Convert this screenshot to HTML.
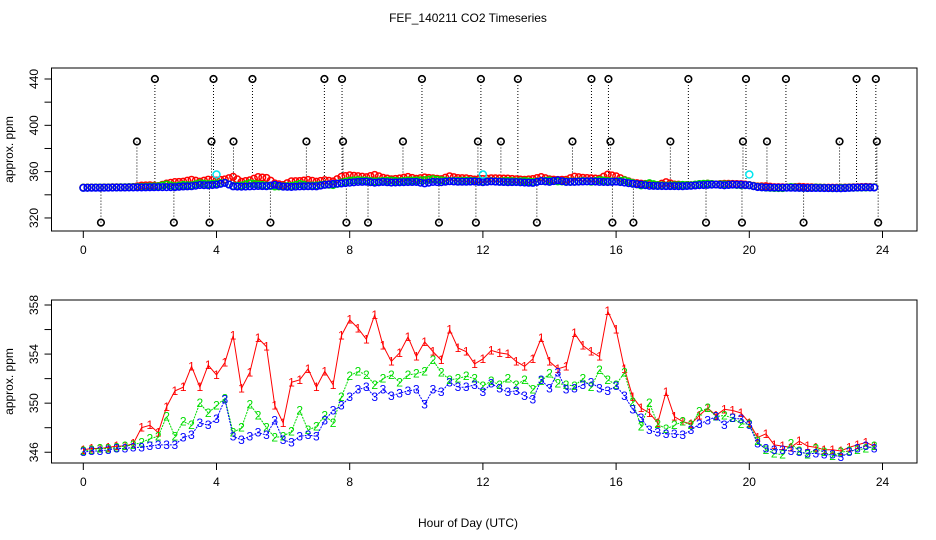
<!DOCTYPE html>
<html><head><meta charset="utf-8"><style>
body{margin:0;background:#fff;}
svg{display:block;font-family:"Liberation Sans",sans-serif;}
</style></head><body>
<svg id="chart" width="936" height="540" viewBox="0 0 936 540">
<rect width="936" height="540" fill="#fff"/>
<text x="468" y="22" font-size="12" text-anchor="middle">FEF_140211  CO2 Timeseries</text>
<text x="468" y="527" font-size="12" text-anchor="middle">Hour of Day (UTC)</text>
<g id="topPanel"></g>
<g id="botPanel"></g>
</svg>
<script>
const hours = [];
for (let i = 0; i < 96; i++) hours.push(i * 0.25);
const series1 = [346.2,346.3,346.3,346.4,346.5,346.5,346.7,348.0,348.2,347.6,349.7,351.0,351.3,353.0,351.3,353.1,352.3,353.3,355.5,351.2,352.5,355.3,354.6,349.8,348.4,351.7,351.9,352.8,351.3,352.6,351.5,355.5,356.8,356.1,355.2,357.2,354.7,353.4,354.1,355.4,353.8,355.0,354.2,353.5,356.0,354.5,354.2,353.2,353.6,
354.3,354.1,354.0,353.4,353.0,353.6,355.3,353.4,352.8,353.0,355.7,354.7,354.2,353.8,357.5,356.0,352.8,350.5,349.6,349.2,348.4,350.9,348.9,348.5,348.3,349.0,349.6,349.0,349.5,349.4,349.2,348.4,347.2,347.5,346.6,346.5,346.4,346.9,346.5,346.4,346.2,346.2,346.1,346.4,346.6,346.8,346.5];
const series2 = [346.1,346.2,346.3,346.3,346.4,346.5,346.6,346.8,347.1,347.3,348.9,347.3,348.5,348.2,350.0,349.2,349.8,350.4,347.6,348.0,349.9,349.0,348.0,347.2,347.3,347.7,349.4,347.8,348.1,349.0,348.4,350.5,352.2,352.6,352.3,351.5,352.0,352.3,351.7,352.3,352.4,352.6,353.5,352.5,351.9,352.0,352.2,352.0,351.4,
351.8,351.5,352.0,351.5,351.9,351.1,351.8,352.4,351.6,351.5,351.4,352.0,351.3,352.7,351.9,351.5,352.5,350.1,348.1,350.0,348.3,347.9,348.2,348.5,348.2,349.3,349.6,348.9,349.0,348.8,348.3,348.3,346.9,346.2,345.9,345.8,346.7,346.1,345.8,346.3,346.0,345.7,346.0,346.1,346.2,346.3,346.5];
const series3 = [346.0,346.1,346.1,346.2,346.3,346.3,346.4,346.4,346.5,346.6,346.6,346.6,347.2,347.4,348.4,348.2,348.7,350.3,347.3,347.0,347.3,347.6,347.4,348.6,347.0,346.8,347.3,347.4,347.3,348.6,349.4,349.8,350.5,351.1,351.3,350.5,351.1,350.6,350.8,351.0,351.1,349.9,351.1,350.9,351.7,351.3,351.3,351.5,350.9,
351.6,351.2,350.9,351.0,350.6,350.3,351.9,351.2,352.5,351.1,351.2,351.5,351.7,351.2,351.0,351.4,350.6,349.5,348.8,347.8,347.6,347.5,347.5,347.4,347.8,348.3,348.6,348.9,348.2,348.8,348.7,348.2,346.7,346.3,346.2,346.2,346.1,346.0,345.9,345.9,345.8,345.8,345.6,346.0,346.3,346.5,346.3];
const outlierHigh = [2.15,3.91,5.08,7.24,7.77,10.17,11.94,13.05,15.26,15.77,18.17,19.90,21.10,23.22,23.80];
const outlierMid = [1.61,3.85,4.51,6.70,7.80,9.60,11.85,12.54,14.69,15.83,17.63,19.81,20.53,22.71,23.83];
const outlierLow = [0.53,2.72,3.79,5.62,7.90,8.55,10.68,11.79,13.62,15.89,16.52,18.70,19.78,21.63,23.87];
const outlierValues = [440, 386, 316];
const calHours = [4.0, 12.0, 20.0];
const calValues = [357.5, 357.5, 357.5];
const xTicks = [0,4,8,12,16,20,24];
const topTicks = [320,340,360,380,400,420,440];
const topLabels = [320,360,400,440];
const botTicks = [346,348,350,352,354,356,358];
const botLabels = [346,350,354,358];

const NS = 'http://www.w3.org/2000/svg';
const X = h => 83.3 + h * 33.3;
const YT = v => 79 + (440 - v) * 1.158;
const YB = v => 305 + (358 - v) * 12.27;
function mk(tag, attrs, parent) {
  const e = document.createElementNS(NS, tag);
  for (const k in attrs) e.setAttribute(k, attrs[k]);
  parent.appendChild(e);
  return e;
}
function axes(g, y0, y1, yTicks, yLabels, Y, name) {
  const box = mk('rect', {x:51.5, y:y0, width:865.5, height:y1-y0, fill:'none', stroke:'#000', 'stroke-width':1}, g);
  
  
  xTicks.forEach(t => {
    const l = mk('line', {x1:X(t), x2:X(t), y1:y1, y2:y1+7, stroke:'#000'}, g);
    
    
    const tx = mk('text', {x:X(t), y:y1+23, 'font-size':12, 'text-anchor':'middle'}, g);
    tx.textContent = t;
    
    
  });
  yTicks.forEach(t => {
    const l = mk('line', {x1:44.5, x2:51.5, y1:Y(t), y2:Y(t), stroke:'#000'}, g);
    
    
  });
  yLabels.forEach(t => {
    const tx = mk('text', {x:38, y:Y(t), 'font-size':12, 'text-anchor':'middle', transform:`rotate(-90 38 ${Y(t)})`}, g);
    tx.textContent = t;
    
    
  });
  const cy = (y0 + y1) / 2;
  const yt = mk('text', {x:13, y:cy, 'font-size':12, 'text-anchor':'middle', transform:`rotate(-90 13 ${cy})`}, g);
  yt.textContent = 'approx. ppm';
  
  
}
const gTop = document.getElementById('topPanel');
const gBot = document.getElementById('botPanel');
axes(gTop, 68, 231, topTicks, topLabels, YT, 'top');
axes(gBot, 300, 463, botTicks, botLabels, YB, 'bottom');

[outlierHigh, outlierMid, outlierLow].forEach((arr, k) => {
  arr.forEach(h => {
    const v = outlierValues[k];
    const l = mk('line', {x1:X(h), x2:X(h), y1:YT(v), y2:YT(349), stroke:'#000', 'stroke-dasharray':'1,2'}, gTop);
    
    
    const c = mk('circle', {cx:X(h), cy:YT(v), r:3.3, fill:'none', stroke:'#000', 'stroke-width':1.6}, gTop);
    
    
  });
});
const cols = ['#ff0000', '#00dd00', '#0000ff'];
const allSeries = [series1, series2, series3];
allSeries.forEach((s, k) => {
  s.forEach((v, i) => {
    [0, 0.125].forEach(off => {
      if (off && i === s.length - 1) return;
      const j = Math.min(i + 1, s.length - 1);
      const vv = off ? (v + s[j]) / 2 : v;
      const c = mk('circle', {cx:X(hours[i] + off), cy:YT(vv), r:3.3, fill:'none', stroke:cols[k], 'stroke-width':1.5}, gTop);
      
      
    });
  });
});
calHours.forEach((h, i) => {
  const c = mk('circle', {cx:X(h), cy:YT(calValues[i]), r:3.5, fill:'none', stroke:'#00e5ee', 'stroke-width':1.5}, gTop);
  
  
});

allSeries.forEach((s, k) => {
  const pts = s.map((v, i) => X(hours[i]) + ',' + YB(v)).join(' ');
  const pl = mk('polyline', {points:pts, fill:'none', stroke:cols[k], 'stroke-width':1, 'stroke-dasharray': k === 0 ? 'none' : '2,1'}, gBot);
  
  
});
allSeries.forEach((s, k) => {
  s.forEach((v, i) => {
    const t = mk('text', {x:X(hours[i]), y:YB(v) + 4, 'font-size':12, 'text-anchor':'middle', fill:cols[k]}, gBot);
    t.textContent = String(k + 1);
    
    
  });
});
</script>
</body></html>
